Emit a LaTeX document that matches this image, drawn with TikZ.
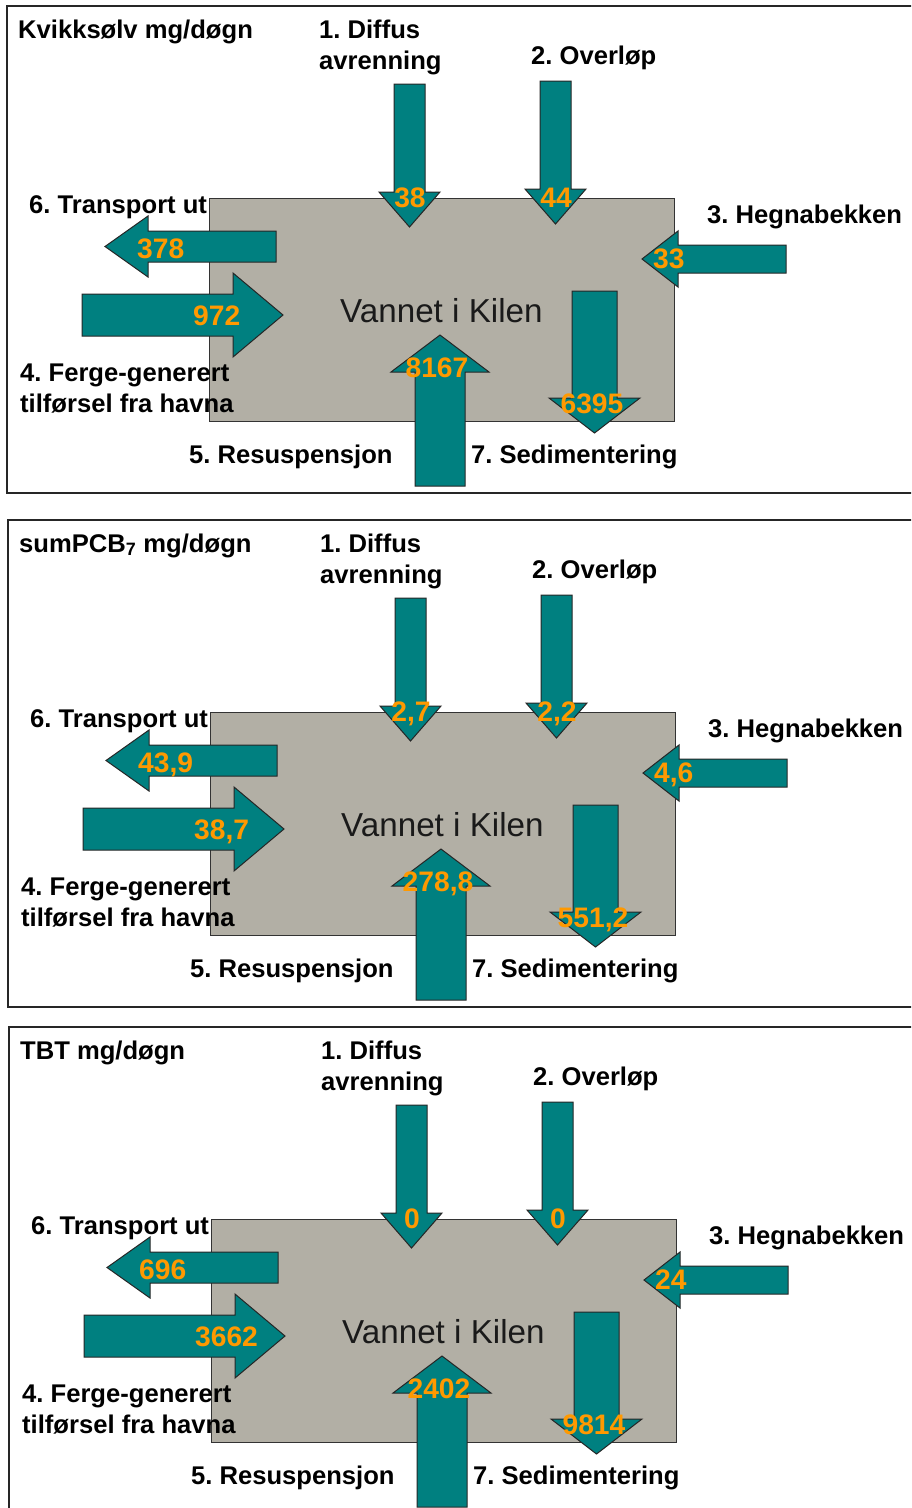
\documentclass[tikz,border=0pt]{standalone}
\usepackage{fontspec}
\setmainfont{Liberation Sans}
\frenchspacing
\definecolor{tealfill}{HTML}{008080}
\definecolor{boxgray}{HTML}{B2AFA5}
\definecolor{numorange}{HTML}{FF9900}
\definecolor{inkdark}{HTML}{1A1A1A}
\tikzset{
  blockarrow/.style={fill=tealfill,draw=black!85,line width=1pt,line join=miter},
  lbl/.style={inner sep=0pt,anchor=base west,text=black,font=\fontsize{25.6}{30}\selectfont\bfseries},
  num/.style={inner sep=0pt,anchor=base,text=numorange,font=\fontsize{28.2}{32}\selectfont\bfseries},
  numw/.style={num,anchor=base west},
  water/.style={fill=boxgray,draw=black!80,line width=1pt},
  waterlbl/.style={inner sep=0pt,anchor=base west,text=inkdark,font=\fontsize{33.2}{38}\selectfont},
  panelframe/.style={draw=black!85,line width=2pt},
}
% vertical block arrow: cx, shaft end, head base, tip, half shaft, half head
\newcommand\vblock[6]{\draw[blockarrow] ({#1-#5},#2) -- ({#1+#5},#2) -- ({#1+#5},#3) -- ({#1+#6},#3) -- (#1,#4) -- ({#1-#6},#3) -- ({#1-#5},#3) -- cycle;}
% horizontal block arrow: cy, shaft end, head base, tip, half shaft, half head
\newcommand\hblock[6]{\draw[blockarrow] (#2,{#1-#5}) -- (#2,{#1+#5}) -- (#3,{#1+#5}) -- (#3,{#1+#6}) -- (#4,#1) -- (#3,{#1-#6}) -- (#3,{#1-#5}) -- cycle;}
% panel: prefix, title, n1 .. n7
\newcommand\flowpanel[9]{%
  \draw[panelframe] (920,6) -- (7,6) -- (7,493) -- (920,493);
  \draw[water] (209,198) rectangle (674,421);
  \node[waterlbl] (#1water) at (340,322) {Vannet i Kilen};
  \vblock{409.5}{84}{192}{227}{15.5}{30.5}
  \vblock{555.5}{81}{189}{224}{15.5}{30.5}
  \hblock{259}{786}{678}{642}{14}{28}
  \vblock{594.5}{291}{398}{433}{22.5}{45.5}
  \hblock{246.5}{276}{148}{105}{15.5}{30.5}
  \hblock{315}{82}{233}{283}{21}{42}
  \vblock{440}{486}{372}{335}{25}{49}
  \node[lbl] (#1title) at (18,38) {#2};
  \node[lbl] (#1lA) at (319,38) {1. Diffus};
  \node[lbl] (#1lB) at (319,69) {avrenning};
  \node[lbl] (#1lC) at (531,64) {2. Overløp};
  \node[lbl] (#1lD) at (707,223) {3. Hegnabekken};
  \node[lbl] (#1lE) at (29,213) {6. Transport ut};
  \node[lbl] (#1lF) at (20,381) {4. Ferge-generert};
  \node[lbl] (#1lG) at (20,412) {tilførsel fra havna};
  \node[lbl] (#1lH) at (189,463) {5. Resuspensjon};
  \node[lbl] (#1lI) at (471,463) {7. Sedimentering};
  \node[num] (#1n1) at (410,207) {#3};
  \node[num] (#1n2) at (556,207) {#4};
  \node[numw] (#1n3) at (653,268) {#5};
  \node[numw] (#1n4) at (193,325) {#6};
  \node[num] (#1n5) at (437,377) {#7};
  \node[numw] (#1n6) at (137,258) {#8};
  \node[num] (#1n7) at (592,413) {#9};
}
\begin{document}
\begin{tikzpicture}[x=1pt,y=-1pt]
  \clip (0,0) rectangle (911,1508);
  \fill[white] (0,0) rectangle (911,1508);
  \begin{scope}
    \flowpanel{hg}{Kvikksølv mg/døgn}{38}{44}{33}{972}{8167}{378}{6395}
  \end{scope}
  \begin{scope}[shift={(1,514)}]
    \flowpanel{pcb}{sumPCB\textsubscript{7} mg/døgn}{2,7}{2,2}{4,6}{38,7}{278,8}{43,9}{551,2}
  \end{scope}
  \begin{scope}[shift={(2,1021)}]
    \flowpanel{tbt}{TBT mg/døgn}{0}{0}{24}{3662}{2402}{696}{9814}
  \end{scope}
\end{tikzpicture}
\end{document}
